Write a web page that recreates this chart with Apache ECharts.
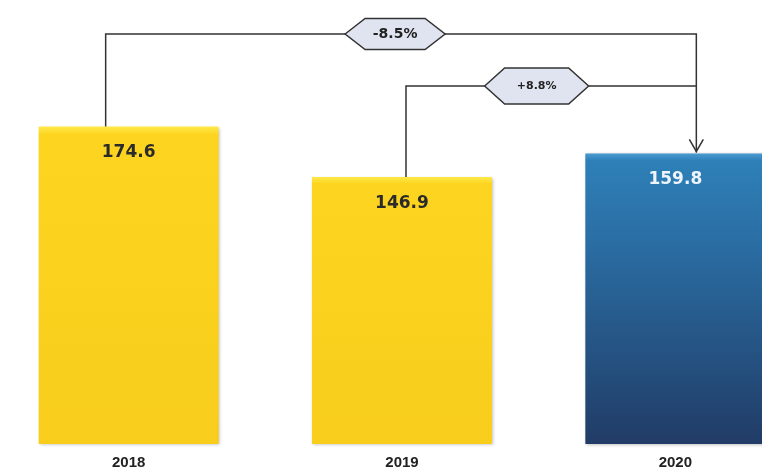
<!DOCTYPE html>
<html>
<head>
<meta charset="utf-8">
<script src="https://cdn.jsdelivr.net/npm/echarts@6/dist/echarts.min.js"></script>
<style>
	html, body { margin: 0; padding: 0; background: #fff; }
	#chart { width: 762px; height: 470px; }
</style>
</head>
<body>
<div id="chart"></div>
<script>
var years = ['2018', '2019', '2020'];
var values = [174.6, 146.9, 159.8];
// change from each earlier year to 2020
var changeFrom = [0, 1];
var changeLabels = ['-8.5%', '+8.8%'];

var yellow = {
	type: 'linear', x: 0, y: 0, x2: 0, y2: 1,
	colorStops: [
		{offset: 0, color: '#ffe94a'},
		{offset: 0.025, color: '#fdd520'},
		{offset: 1, color: '#f8cd1c'}
	]
};
var blue = {
	type: 'linear', x: 0, y: 0, x2: 0, y2: 1,
	colorStops: [
		{offset: 0, color: '#4a9ad0'},
		{offset: 0.025, color: '#2e80b8'},
		{offset: 0.3, color: '#2a6ea4'},
		{offset: 1, color: '#213c66'}
	]
};

var chart = echarts.init(document.getElementById('chart'));
var option = {
	animation: false,
	grid: {
		left: -8,
		right: -50,
		top: 4,
		bottom: 26,
		outerBoundsMode: 'none'
	},
	xAxis: {
		type: 'category',
		data: years,
		axisLine: {show: false},
		axisTick: {show: false},
		axisLabel: {
			margin: 11,
			color: '#222',
			fontSize: 15,
			fontWeight: 'bold',
			fontFamily: 'Liberation Sans Narrow, Liberation Sans, sans-serif'
		}
	},
	yAxis: {
		type: 'value',
		min: 0,
		max: 242,
		show: false,
		splitLine: {show: false}
	},
	series: [{
		type: 'bar',
		barWidth: 180,
		data: values.map(function(v, i) {
			var last = i == values.length - 1;
			return {
				value: v,
				itemStyle: {color: last ? blue : yellow},
				label: {color: last ? '#eef4fb' : '#2b2b2b'}
			};
		}),
		itemStyle: {
			shadowColor: 'rgba(0,0,0,0.25)',
			shadowBlur: 3,
			shadowOffsetX: 1,
			shadowOffsetY: 1
		},
		label: {
			show: true,
			position: 'insideTop',
			distance: 18,
			fontSize: 17,
			fontWeight: 'bold',
			fontFamily: 'DejaVu Sans, sans-serif'
		}
	}]
};
chart.setOption(option);

function hexagon(cx, cy, w, h, text, size) {
	var hw = w / 2, hh = h / 2, s = 20;
	return [{
		type: 'polygon',
		z: 20,
		shape: {points: [
			[cx - hw, cy], [cx - hw + s, cy - hh], [cx + hw - s, cy - hh],
			[cx + hw, cy], [cx + hw - s, cy + hh], [cx - hw + s, cy + hh]
		]},
		style: {fill: '#dfe4f0', stroke: '#333', lineWidth: 1.5}
	}, {
		type: 'text',
		z: 21,
		x: cx,
		y: cy,
		style: {
			text: text,
			align: 'center',
			verticalAlign: 'middle',
			fill: '#222',
			font: 'bold ' + size + 'px DejaVu Sans, sans-serif'
		}
	}];
}

var pts = values.map(function(v, i) {
	return chart.convertToPixel({seriesIndex: 0}, [i, v]);
});
var target = pts[pts.length - 1];
var ax = target[0] + 21;
var levels = [34, 86];
var sideOffset = [-23, 4];
var hexPos = [0.49, 0.45];
var hexSize = [[100, 31, 14], [104, 36, 11]];

var elements = [];
changeFrom.forEach(function(from, k) {
	var p = pts[from];
	var x0 = p[0] + sideOffset[k];
	var y = levels[k];
	var pts2 = [[x0, p[1]], [x0, y], [ax, y]];
	if (k == 0) {
		pts2.push([ax, target[1] - 1]);
	}
	elements.push({
		type: 'polyline',
		z: 10,
		shape: {points: pts2},
		style: {stroke: '#333', lineWidth: 1.5, fill: null}
	});
	var cx = x0 + (ax - x0) * hexPos[k];
	elements = elements.concat(hexagon(cx, y, hexSize[k][0], hexSize[k][1], changeLabels[k], hexSize[k][2]));
});
// arrow head on the 2020 bar
elements.push({
	type: 'polyline',
	z: 10,
	shape: {points: [[ax - 7, target[1] - 14], [ax, target[1] - 2], [ax + 7, target[1] - 14]]},
	style: {stroke: '#333', lineWidth: 1.5, fill: null}
});

chart.setOption({graphic: {elements: elements}});
</script>
</body>
</html>
